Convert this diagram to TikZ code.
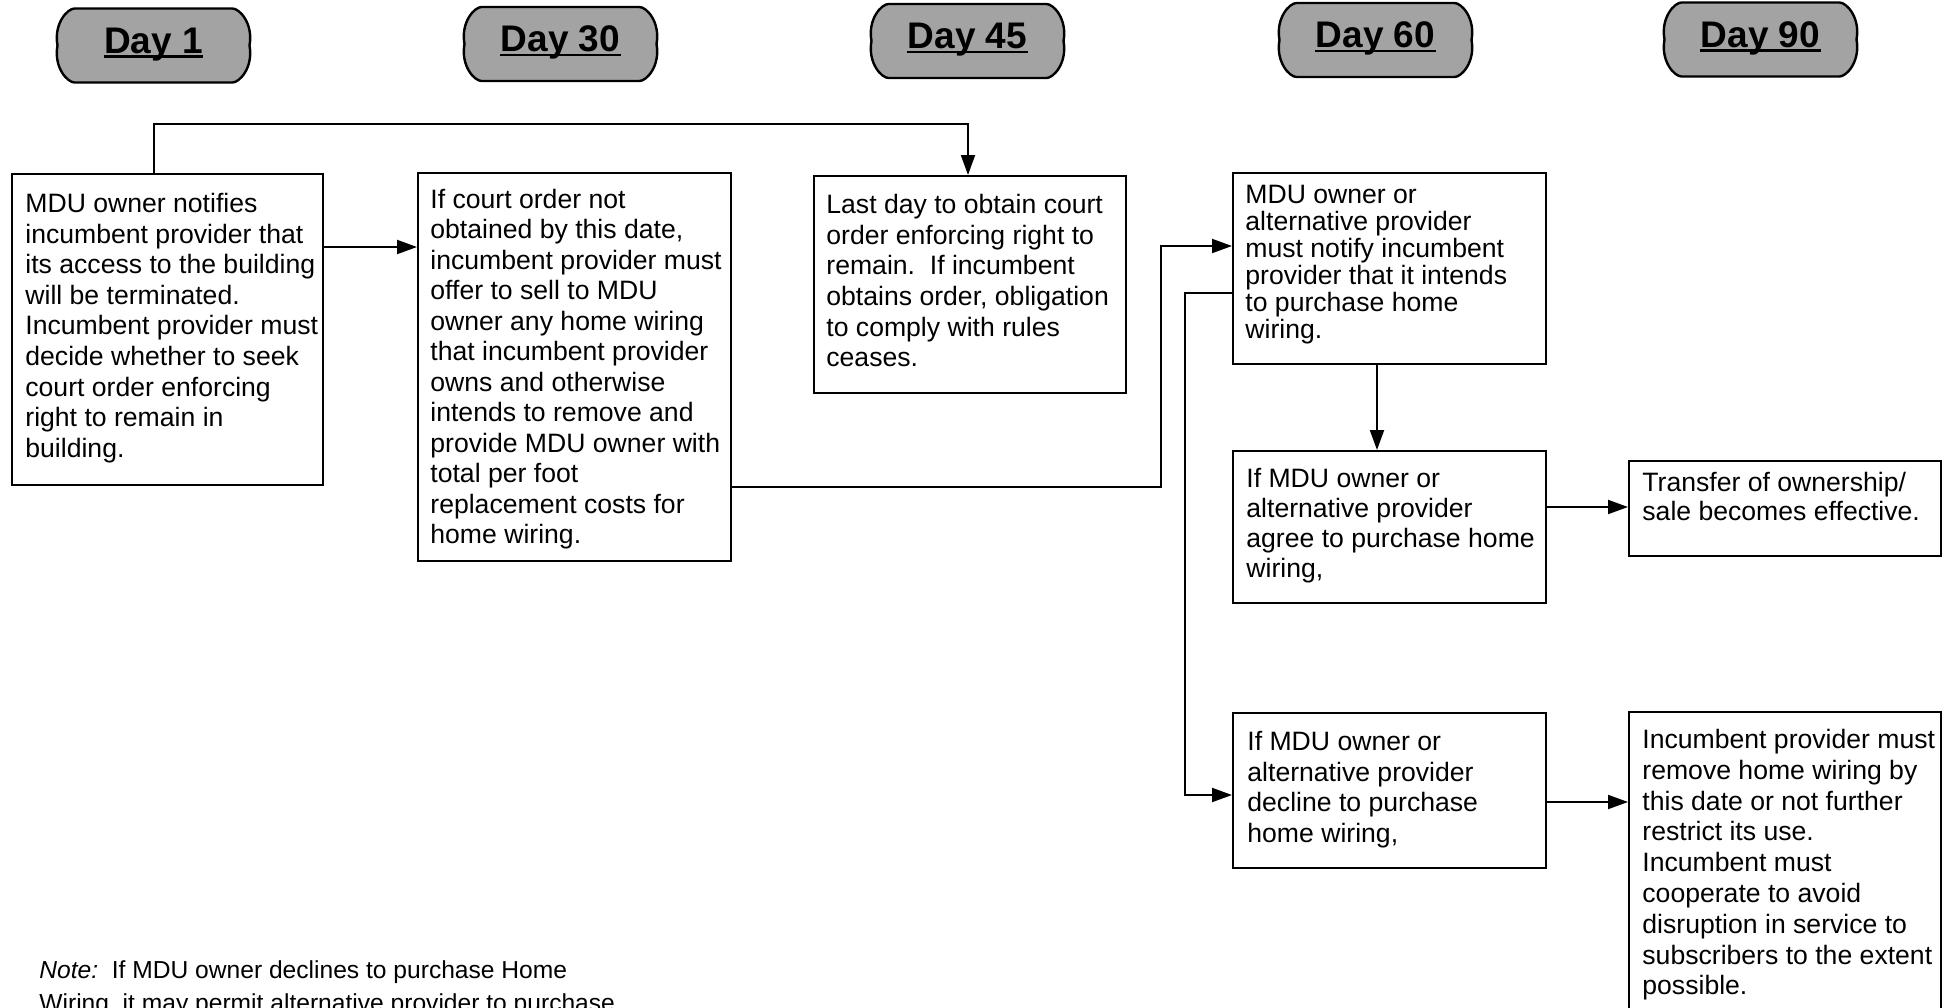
\documentclass[tikz,border=0pt]{standalone}
\usepackage{fontspec}
\setmainfont{Liberation Sans}
\usetikzlibrary{arrows.meta,calc}
\newcommand\tstrut{\rule{0pt}{10.7pt}}
\tikzset{
  box/.style={draw=black, line width=1.1pt, inner sep=0pt, anchor=north west},
  txt/.style={anchor=north west, inner sep=0pt, align=left, font=\fontsize{13.3}{#1}\selectfont},
  conn/.style={draw=black, line width=1pt},
  arr/.style={conn, -{Triangle[length=10pt,width=7pt]}},
  badge/.style={fill=black!36, draw=black, line width=1.2pt, line join=round},
  daytext/.style={anchor=base, inner sep=0pt, font=\fontsize{18.5}{22}\selectfont\bfseries},
}
\newcommand\DayBadge[4]{%
  \path[badge] (#2-79,#3-37) -- (#2+79,#3-37) .. controls (#2+86,#3-37) and (#2+100,#3-22) .. (#2+96,#3) .. controls (#2+100,#3+22) and (#2+86,#3+37) .. (#2+79,#3+37) -- (#2-79,#3+37) .. controls (#2-86,#3+37) and (#2-100,#3+22) .. (#2-96,#3) .. controls (#2-100,#3-22) and (#2-86,#3-37) .. (#2-79,#3-37) -- cycle;
  \node[daytext] (#1) at (#2,#3+7.5) {#4};
  \draw[line width=1.2pt] ($(#1.base west)+(0,3.5)$) -- ($(#1.base east)+(0,3.5)$);
}
\begin{document}
\begin{tikzpicture}[x=0.5pt,y=-0.5pt]
\useasboundingbox (0,0) rectangle (1955,1007);
\fill[white] (0,0) rectangle (1955,1007);
\clip (0,0) rectangle (1955,1007);

% day badges
\DayBadge{d1}{153.5}{45.5}{Day 1}
\DayBadge{d30}{560.5}{44}{Day 30}
\DayBadge{d45}{967.5}{41}{Day 45}
\DayBadge{d60}{1375.5}{40}{Day 60}
\DayBadge{d90}{1760.5}{39.5}{Day 90}

% boxes
\node[box, minimum width=155.5pt, minimum height=155.5pt] (A) at (11,173) {};
\node[box, minimum width=156.5pt, minimum height=194pt] (B) at (417,172) {};
\node[box, minimum width=156pt, minimum height=108.5pt] (C) at (813,175) {};
\node[box, minimum width=156.5pt, minimum height=95.5pt] (D) at (1232,172) {};
\node[box, minimum width=156.5pt, minimum height=76pt] (E) at (1232,450) {};
\node[box, minimum width=156.5pt, minimum height=77.5pt] (F) at (1232,712) {};
\node[box, minimum width=156pt, minimum height=47.5pt] (G) at (1628,460) {};
\node[box, minimum width=156pt, minimum height=165pt] (H) at (1628,711) {};

% texts
\node[txt=15.3] (At) at (25,190.6) {\tstrut MDU owner notifies\\incumbent provider that\\its access to the building\\will be terminated.\\Incumbent provider must\\decide whether to seek\\court order enforcing\\right to remain in\\building.};
\node[txt=15.25] (Bt) at (430,186.6) {\tstrut If court order not\\obtained by this date,\\incumbent provider must\\offer to sell to MDU\\owner any home wiring\\that incumbent provider\\owns and otherwise\\intends to remove and\\provide MDU owner with\\total per foot\\replacement costs for\\home wiring.};
\node[txt=15.35] (Ct) at (826,191.6) {\tstrut Last day to obtain court\\order enforcing right to\\remain.\ \ If incumbent\\obtains order, obligation\\to comply with rules\\ceases.};
\node[txt=13.5] (Dt) at (1245,181.6) {\tstrut MDU owner or\\alternative provider\\must notify incumbent\\provider that it intends\\to purchase home\\wiring.};
\node[txt=15] (Et) at (1246,465.6) {\tstrut If MDU owner or\\alternative provider\\agree to purchase home\\wiring,};
\node[txt=15.3] (Ft) at (1247,728.6) {\tstrut If MDU owner or\\alternative provider\\decline to purchase\\home wiring,};
\node[txt=14.5] (Gt) at (1642,469.6) {\tstrut Transfer of ownership/\\sale becomes effective.};
\node[txt=15.4] (Ht) at (1642,726.6) {\tstrut Incumbent provider must\\remove home wiring by\\this date or not further\\restrict its use.\\Incumbent must\\cooperate to avoid\\disruption in service to\\subscribers to the extent\\possible.};
\node[anchor=north west, inner sep=0pt, align=left, font=\fontsize{12.3}{16.5}\selectfont] (note) at (39,956.6) {\tstrut\textit{Note:}\ \ If MDU owner declines to purchase Home\\Wiring, it may permit alternative provider to purchase};

% connectors
\coordinate (topbend) at (968,124);
\draw[arr] ($(A.north west)+(143,0)$) |- (topbend) -- (C.north -| topbend);
\coordinate (ab) at (0,247);
\draw[arr] (A.east |- ab) -- (B.west |- ab);
\coordinate (bd1) at (1161,487);
\coordinate (bd2) at (1161,246);
\draw[arr] (B.east |- bd1) -- (bd1) -- (bd2) -- (D.west |- bd2);
\coordinate (df1) at (1185,293);
\coordinate (df2) at (1185,795);
\draw[arr] (D.west |- df1) -- (df1) -- (df2) -- (F.west |- df2);
\coordinate (de) at (1377,0);
\draw[arr] (D.south -| de) -- (E.north -| de);
\coordinate (eg) at (0,507);
\draw[arr] (E.east |- eg) -- (G.west |- eg);
\coordinate (fh) at (0,802);
\draw[arr] (F.east |- fh) -- (H.west |- fh);
\end{tikzpicture}
\end{document}
